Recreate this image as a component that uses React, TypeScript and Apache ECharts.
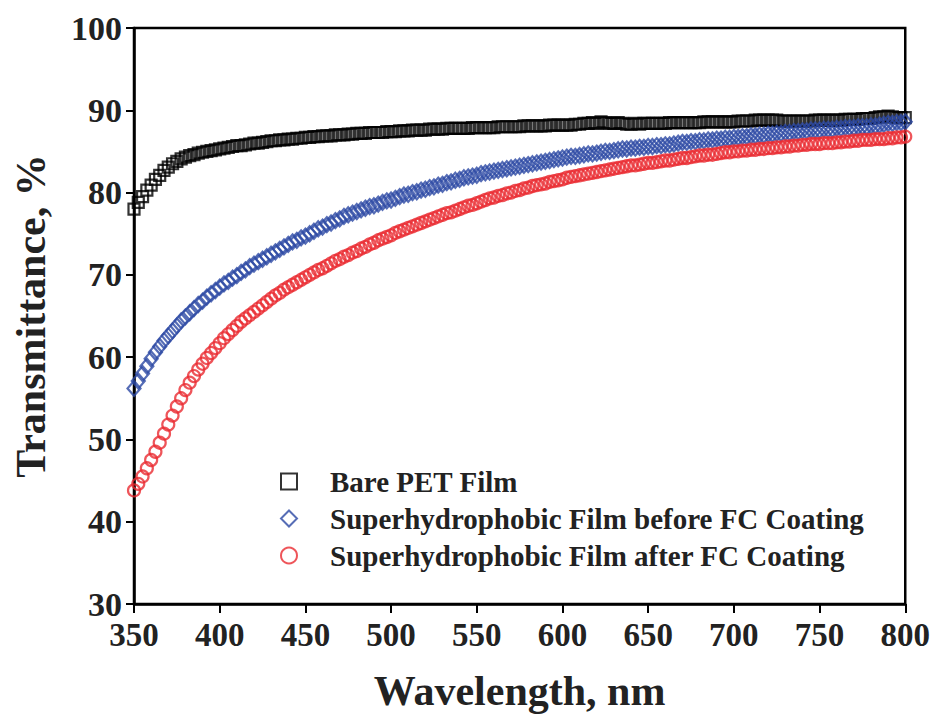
import React, { useEffect, useRef } from "react";
import * as echarts from "echarts";

const wavelengths = [
  350, 352.5, 355, 357.5, 360, 362.5, 365, 367.5, 370, 372.5,
  375, 377.5, 380, 382.5, 385, 387.5, 390, 392.5, 395, 397.5,
  400, 402.5, 405, 407.5, 410, 412.5, 415, 417.5, 420, 422.5,
  425, 427.5, 430, 432.5, 435, 437.5, 440, 442.5, 445, 447.5,
  450, 452.5, 455, 457.5, 460, 462.5, 465, 467.5, 470, 472.5,
  475, 477.5, 480, 482.5, 485, 487.5, 490, 492.5, 495, 497.5,
  500, 502.5, 505, 507.5, 510, 512.5, 515, 517.5, 520, 522.5,
  525, 527.5, 530, 532.5, 535, 537.5, 540, 542.5, 545, 547.5,
  550, 552.5, 555, 557.5, 560, 562.5, 565, 567.5, 570, 572.5,
  575, 577.5, 580, 582.5, 585, 587.5, 590, 592.5, 595, 597.5,
  600, 602.5, 605, 607.5, 610, 612.5, 615, 617.5, 620, 622.5,
  625, 627.5, 630, 632.5, 635, 637.5, 640, 642.5, 645, 647.5,
  650, 652.5, 655, 657.5, 660, 662.5, 665, 667.5, 670, 672.5,
  675, 677.5, 680, 682.5, 685, 687.5, 690, 692.5, 695, 697.5,
  700, 702.5, 705, 707.5, 710, 712.5, 715, 717.5, 720, 722.5,
  725, 727.5, 730, 732.5, 735, 737.5, 740, 742.5, 745, 747.5,
  750, 752.5, 755, 757.5, 760, 762.5, 765, 767.5, 770, 772.5,
  775, 777.5, 780, 782.5, 785, 787.5, 790, 792.5, 795, 797.5,
  800,
];

const barePET = [
  78.0, 78.8, 79.5, 80.3, 80.9, 81.6, 82.1, 82.7, 83.1, 83.5,
  83.8, 84.1, 84.3, 84.5, 84.6, 84.8, 84.9, 85.0, 85.1, 85.2,
  85.3, 85.4, 85.5, 85.6, 85.7, 85.7, 85.8, 85.9, 86.0, 86.0,
  86.1, 86.2, 86.3, 86.3, 86.4, 86.4, 86.5, 86.5, 86.6, 86.6,
  86.7, 86.7, 86.8, 86.8, 86.9, 86.9, 86.9, 87.0, 87.0, 87.0,
  87.1, 87.1, 87.2, 87.2, 87.2, 87.3, 87.3, 87.3, 87.3, 87.4,
  87.4, 87.4, 87.5, 87.5, 87.5, 87.6, 87.6, 87.6, 87.6, 87.7,
  87.7, 87.7, 87.7, 87.8, 87.8, 87.8, 87.8, 87.8, 87.8, 87.9,
  87.9, 87.9, 87.9, 87.9, 87.9, 88.0, 88.0, 88.0, 88.0, 88.0,
  88.0, 88.1, 88.1, 88.1, 88.1, 88.1, 88.1, 88.2, 88.2, 88.2,
  88.2, 88.2, 88.2, 88.3, 88.3, 88.4, 88.4, 88.5, 88.4, 88.6,
  88.5, 88.4, 88.4, 88.5, 88.4, 88.3, 88.3, 88.4, 88.3, 88.4,
  88.4, 88.4, 88.4, 88.4, 88.4, 88.5, 88.5, 88.5, 88.5, 88.5,
  88.5, 88.5, 88.5, 88.6, 88.6, 88.6, 88.6, 88.6, 88.6, 88.6,
  88.6, 88.7, 88.7, 88.7, 88.7, 88.8, 88.8, 88.8, 88.8, 88.8,
  88.8, 88.7, 88.7, 88.7, 88.7, 88.7, 88.7, 88.7, 88.7, 88.8,
  88.8, 88.8, 88.8, 88.8, 88.8, 88.8, 88.9, 88.9, 88.9, 88.9,
  89.0, 89.0, 89.0, 89.1, 89.2, 89.2, 89.3, 89.2, 89.1, 89.1,
  89.1,
];

const beforeFC = [
  56.2, 57.1, 58.0, 58.9, 59.8, 60.6, 61.3, 62.0, 62.6, 63.2,
  63.8, 64.4, 64.9, 65.4, 65.9, 66.4, 66.8, 67.3, 67.7, 68.1,
  68.5, 68.9, 69.2, 69.6, 69.9, 70.3, 70.6, 71.0, 71.3, 71.6,
  71.9, 72.2, 72.5, 72.8, 73.1, 73.4, 73.7, 74.0, 74.2, 74.5,
  74.7, 75.0, 75.3, 75.6, 75.8, 76.1, 76.3, 76.6, 76.8, 77.1,
  77.3, 77.5, 77.7, 77.9, 78.1, 78.3, 78.4, 78.6, 78.8, 79.0,
  79.1, 79.3, 79.5, 79.7, 79.8, 80.0, 80.1, 80.3, 80.4, 80.6,
  80.7, 80.9, 81.0, 81.2, 81.3, 81.5, 81.6, 81.8, 81.9, 82.0,
  82.1, 82.3, 82.4, 82.5, 82.6, 82.7, 82.8, 82.9, 83.0, 83.1,
  83.2, 83.3, 83.4, 83.5, 83.6, 83.7, 83.8, 83.9, 84.0, 84.1,
  84.2, 84.3, 84.4, 84.4, 84.5, 84.6, 84.7, 84.7, 84.8, 84.9,
  85.0, 85.0, 85.1, 85.2, 85.3, 85.3, 85.4, 85.4, 85.5, 85.5,
  85.6, 85.6, 85.7, 85.7, 85.8, 85.8, 85.9, 86.0, 86.1, 86.1,
  86.2, 86.2, 86.3, 86.3, 86.4, 86.4, 86.5, 86.5, 86.6, 86.6,
  86.7, 86.7, 86.8, 86.8, 86.9, 86.9, 87.0, 87.0, 87.1, 87.1,
  87.2, 87.2, 87.3, 87.3, 87.4, 87.4, 87.5, 87.5, 87.6, 87.6,
  87.6, 87.7, 87.7, 87.7, 87.8, 87.8, 87.9, 87.9, 87.9, 88.0,
  88.0, 88.0, 88.1, 88.1, 88.2, 88.3, 88.4, 88.4, 88.5, 88.5,
  88.6,
];

const afterFC = [
  43.8, 44.6, 45.5, 46.5, 47.5, 48.5, 49.6, 50.7, 51.8, 52.9,
  54.0, 55.0, 56.0, 56.9, 57.7, 58.5, 59.2, 59.9, 60.5, 61.1,
  61.7, 62.3, 62.8, 63.3, 63.8, 64.3, 64.7, 65.1, 65.5, 65.9,
  66.3, 66.7, 67.1, 67.5, 67.8, 68.2, 68.5, 68.8, 69.1, 69.4,
  69.7, 70.0, 70.3, 70.6, 70.8, 71.1, 71.4, 71.7, 71.9, 72.2,
  72.4, 72.7, 72.9, 73.2, 73.4, 73.7, 73.9, 74.2, 74.4, 74.6,
  74.8, 75.1, 75.3, 75.5, 75.7, 75.9, 76.1, 76.3, 76.5, 76.7,
  76.9, 77.1, 77.3, 77.5, 77.6, 77.8, 78.0, 78.2, 78.4, 78.5,
  78.7, 78.9, 79.1, 79.3, 79.4, 79.6, 79.7, 79.9, 80.0, 80.2,
  80.3, 80.5, 80.6, 80.8, 80.9, 81.0, 81.1, 81.3, 81.4, 81.5,
  81.6, 81.8, 81.9, 82.0, 82.1, 82.2, 82.3, 82.4, 82.5, 82.6,
  82.7, 82.8, 82.9, 83.0, 83.1, 83.2, 83.3, 83.3, 83.4, 83.5,
  83.6, 83.6, 83.7, 83.8, 83.9, 83.9, 84.0, 84.1, 84.2, 84.2,
  84.3, 84.4, 84.5, 84.5, 84.6, 84.6, 84.7, 84.8, 84.9, 84.9,
  85.0, 85.0, 85.1, 85.1, 85.2, 85.2, 85.3, 85.3, 85.4, 85.4,
  85.5, 85.5, 85.6, 85.6, 85.7, 85.7, 85.8, 85.8, 85.9, 85.9,
  85.9, 86.0, 86.0, 86.0, 86.1, 86.1, 86.2, 86.2, 86.3, 86.3,
  86.4, 86.4, 86.4, 86.5, 86.5, 86.5, 86.6, 86.6, 86.7, 86.7,
  86.8,
];

const seriesNames = [
  "Bare PET Film",
  "Superhydrophobic Film before FC Coating",
  "Superhydrophobic Film after FC Coating",
];

const FONT = "'Liberation Serif', 'Times New Roman', serif";

function pairs(ys: number[]) {
  return wavelengths.map((x, i) => [x, ys[i]]);
}

export default function App() {
  const ref = useRef<HTMLDivElement>(null);
  useEffect(() => {
    if (!ref.current) return;
    const chart = echarts.init(ref.current, undefined, { renderer: "svg" });
    chart.setOption({
      animation: false,
      backgroundColor: "#fff",
      grid: {
        left: 134,
        right: 27,
        top: 28,
        bottom: 113,
        show: true,
        borderColor: "#000",
        borderWidth: 2.5,
        backgroundColor: "transparent",
      },
      legend: {
        orient: "vertical",
        left: 275,
        top: 462,
        itemWidth: 16,
        itemHeight: 16,
        itemGap: 8,
        textStyle: {
          fontFamily: FONT,
          fontWeight: "bold",
          fontSize: 29,
          color: "#222",
          padding: [0, 0, 0, 28],
        },
        data: seriesNames,
      },
      xAxis: {
        type: "value",
        min: 350,
        max: 800,
        interval: 50,
        name: "Wavelength, nm",
        nameLocation: "middle",
        nameGap: 66,
        nameTextStyle: { fontFamily: FONT, fontWeight: "bold", fontSize: 42, color: "#222" },
        axisLine: { show: true, lineStyle: { color: "#000", width: 2.5 } },
        axisTick: { show: true, inside: false, length: 9, lineStyle: { color: "#000", width: 2 } },
        axisLabel: { fontFamily: FONT, fontWeight: "bold", fontSize: 33, color: "#222", margin: 14 },
        splitLine: { show: false },
      },
      yAxis: {
        type: "value",
        min: 30,
        max: 100,
        interval: 10,
        name: "Transmittance, %",
        nameLocation: "middle",
        nameGap: 82,
        nameTextStyle: { fontFamily: FONT, fontWeight: "bold", fontSize: 42, color: "#222" },
        axisLine: { show: true, lineStyle: { color: "#000", width: 2.5 } },
        axisTick: { show: true, inside: false, length: 8, lineStyle: { color: "#000", width: 2 } },
        axisLabel: { fontFamily: FONT, fontWeight: "bold", fontSize: 34, color: "#222", margin: 12 },
        splitLine: { show: false },
      },
      series: [
        {
          name: seriesNames[0],
          type: "scatter",
          symbol: "rect",
          symbolSize: 11,
          itemStyle: { color: "transparent", borderColor: "#000", borderWidth: 2.2 },
          data: pairs(barePET),
        },
        {
          name: seriesNames[1],
          type: "scatter",
          symbol: "diamond",
          symbolSize: [13, 15],
          itemStyle: { color: "transparent", borderColor: "#2c49a4", borderWidth: 2.2 },
          data: pairs(beforeFC),
        },
        {
          name: seriesNames[2],
          type: "scatter",
          symbol: "circle",
          symbolSize: 12,
          itemStyle: { color: "transparent", borderColor: "#ea2a31", borderWidth: 2.2 },
          data: pairs(afterFC),
        },
      ],
    });
    return () => chart.dispose();
  }, []);
  return (
    <div
      ref={ref}
      style={{ position: "absolute", left: 0, top: 0, width: 933, height: 717, background: "#fff" }}
    />
  );
}
